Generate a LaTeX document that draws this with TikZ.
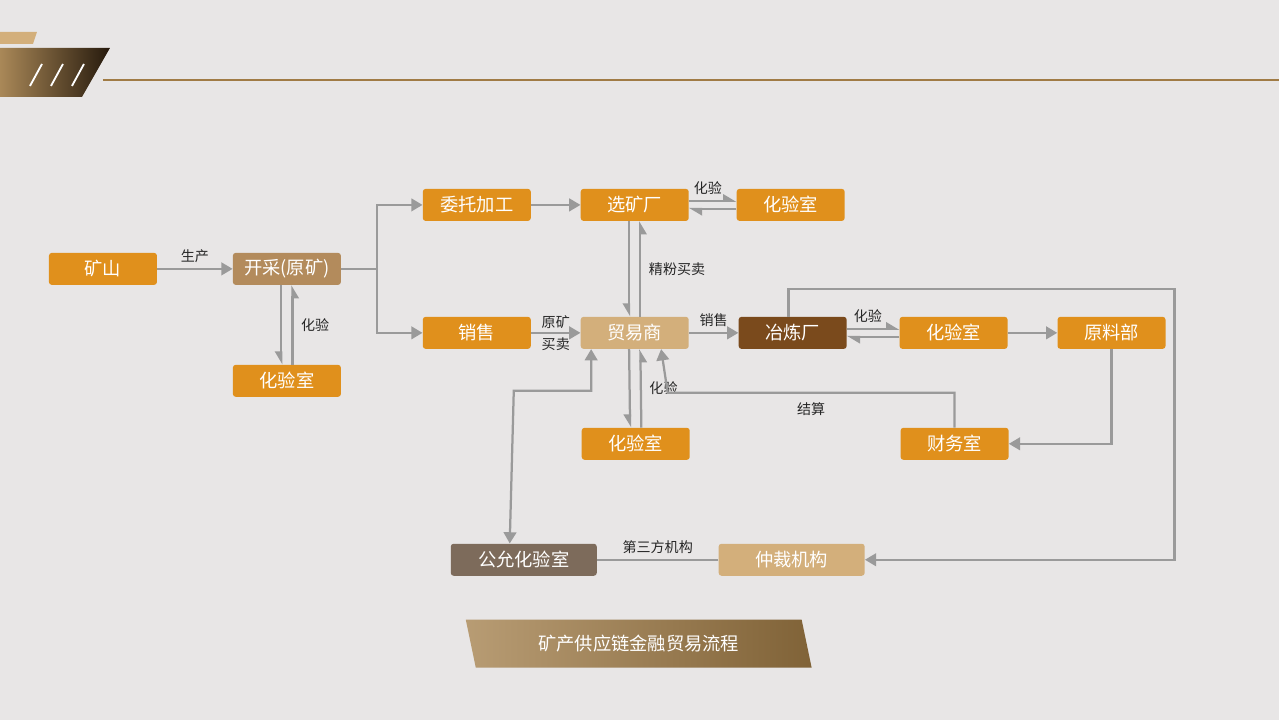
\documentclass[tikz,border=0pt]{standalone}
\usepackage{fontspec}
\newfontfamily\cjk{Noto Sans CJK SC}
\usetikzlibrary{arrows.meta}
\definecolor{bg}{HTML}{E8E6E6}
\definecolor{orng}{HTML}{E0901C}
\definecolor{tan}{HTML}{B38B5C}
\definecolor{ltan}{HTML}{D3AF7B}
\definecolor{dbrown}{HTML}{7A4A1C}
\definecolor{gbrown}{HTML}{7D6B5B}
\definecolor{gline}{HTML}{9A9A9A}
\definecolor{gold}{HTML}{A07B45}
\begin{document}
\begin{tikzpicture}[x=0.025cm,y=-0.025cm,
box/.style={rectangle, rounded corners=2pt, fill=orng, text=white, minimum width=2.7cm, minimum height=0.8cm, font=\cjk\fontsize{13}{13}\selectfont, inner sep=0pt},
widebox/.style={box, minimum width=3.65cm},
lbl/.style={font=\cjk\fontsize{10}{10}\selectfont, text=black!85},
conn/.style={draw=gline, line width=1.6pt, -{Triangle[length=8pt,width=9pt]}},
plain/.style={draw=gline, line width=1.6pt},
hl/.style={draw=gline, line width=1.6pt, -{Triangle[harpoon,length=8pt,width=9pt]}},
hr/.style={draw=gline, line width=1.6pt, -{Triangle[harpoon,swap,length=8pt,width=9pt]}},
]
\fill[bg] (0,0) rectangle (1280,720);
% header
\fill[ltan] (0,32) -- (37,32) -- (33,44) -- (0,44) -- cycle;
\shade[left color=gold!90!white, right color=black!80!brown] (0,48) -- (110,48) -- (82,97) -- (0,97) -- cycle;
\foreach \i in {0,1,2} \draw[white, line width=1.3pt] (30+\i*21,86) -- (42+\i*21,64);
\draw[gold, line width=0.8pt] (103,80) -- (1280,80);

%Nodes
\node[box] (mine) at (103,269) {矿山};
\node[box, fill=tan] (dig) at (287,269) {开采(原矿)};
\node[box] (lab1) at (287,381) {化验室};
\node[box] (proc) at (477,205) {委托加工};
\node[box] (mill) at (635,205) {选矿厂};
\node[box] (lab2) at (791,205) {化验室};
\node[box] (sale) at (477,333) {销售};
\node[box, fill=ltan] (trader) at (635,333) {贸易商};
\node[box, fill=dbrown] (smelt) at (793,333) {冶炼厂};
\node[box] (lab3) at (954,333) {化验室};
\node[box] (raw) at (1112,333) {原料部};
\node[box] (lab4) at (636,444) {化验室};
\node[box] (fin) at (955,444) {财务室};
\node[widebox, fill=gbrown] (fair) at (524,560) {公允化验室};
\node[widebox, fill=ltan] (arb) at (792,560) {仲裁机构};

\coordinate (fork) at (377,269);

%Lines
\draw[conn] (mine) -- node[lbl, above] {生产} (dig);
\draw[hr] ([xshift=-4pt]dig.south) -- ([xshift=-4pt]lab1.north);
\draw[hr] ([xshift=4pt]lab1.north) -- node[lbl, right=2pt] {化验} ([xshift=4pt]dig.south);
\draw[plain] (dig.east) -- (fork);
\draw[conn] (fork) |- (proc.west);
\draw[conn] (fork) |- (sale.west);
\draw[conn] (proc) -- (mill);
\draw[hl] ([yshift=3pt]mill.east) -- node[lbl, above, pos=0.4] {化验} ([yshift=3pt]lab2.west);
\draw[hl] ([yshift=-3pt]lab2.west) -- ([yshift=-3pt]mill.west -| mill.east);
\draw[hr] ([xshift=-4pt]mill.south) -- ([xshift=-4pt]trader.north);
\draw[hr] ([xshift=4pt]trader.north) -- node[lbl, right=2pt] {精粉买卖} ([xshift=4pt]mill.south);
\draw[conn] (sale) -- node[lbl, above=-1pt] {原矿} node[lbl, below=-1pt] {买卖} (trader);
\draw[conn] (trader) -- node[lbl, above] {销售} (smelt);
\draw[hl] ([yshift=3pt]smelt.east) -- node[lbl, above, pos=0.4] {化验} ([yshift=3pt]lab3.west);
\draw[hl] ([yshift=-3pt]lab3.west) -- ([yshift=-3pt]smelt.east);
\draw[conn] (lab3) -- (raw);
\draw[conn] (raw.south) |- (fin.east);
\draw[hr] ([xshift=-4pt]trader.south) -- ([xshift=-4pt]lab4.north);
\draw[hr] ([xshift=4pt]lab4.north) -- node[lbl, right=2pt] {化验} ([xshift=4pt]trader.south);
\draw[conn] (fin.north) |- (668,393) node[lbl, pos=0.75, below=3pt] {结算} -- ([xshift=33pt-0.5cm]trader.south);
\draw[draw=gline, line width=1.6pt, {Triangle[length=8pt,width=9pt]}-{Triangle[length=8pt,width=9pt]}] ([xshift=-31pt]trader.south) |- (514,391) -- ([xshift=-10pt]fair.north);
\draw[conn] ([xshift=-3pt]smelt.north) |- (1175,289) |- (arb.east);
\draw[plain] (arb) -- node[lbl, above] {第三方机构} (fair);

% title banner
\shade[left color=gold!75!white, right color=gold!80!black, drop shadow/.try] (466,620) -- (802,620) -- (812,668) -- (476,668) -- cycle;
\node[font=\cjk\fontsize{13}{13}\selectfont, text=white] (title) at (639,644) {矿产供应链金融贸易流程};
\end{tikzpicture}
\end{document}
